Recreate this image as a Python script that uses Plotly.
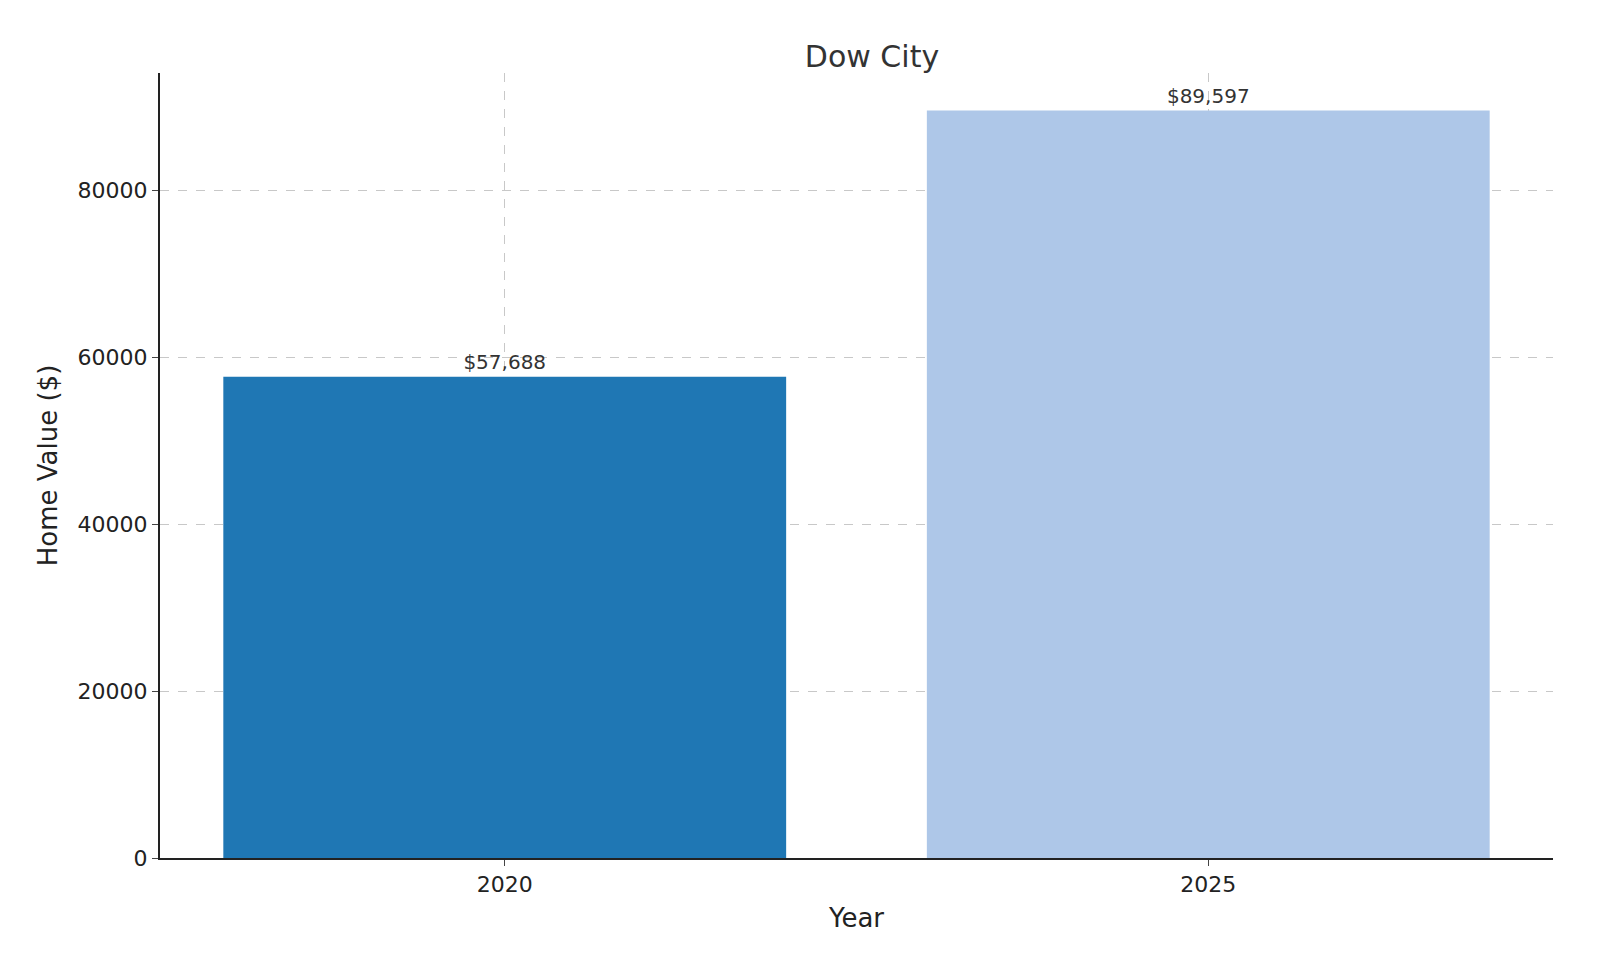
import plotly.graph_objects as go

years = ["2020", "2025"]
values = [57688, 89597]
colors = ["#1f77b4", "#aec7e8"]
labels = ["$57,688", "$89,597"]

fig = go.Figure(go.Bar(
    x=[0, 1], y=values, width=0.8, marker_color=colors, marker_line_width=0,
    text=labels, textposition="outside", cliponaxis=False,
    textfont=dict(size=20, color="#333333"),
))
fig.update_layout(
    width=1600, height=960, plot_bgcolor="white", paper_bgcolor="white",
    font=dict(family="DejaVu Sans", size=22, color="#222222"),
    title=dict(text="Dow City", x=0.54, xanchor="center", y=0.96, font=dict(size=30, color="#333333")),
    margin=dict(l=152, r=55, t=65, b=110),
    showlegend=False, bargap=0.2,
)
fig.update_xaxes(
    tickvals=[0, 1], ticktext=years, range=[-0.49, 1.49],
    title=dict(text="Year", standoff=12), showline=True, linecolor="#222222", linewidth=2,
    ticks="outside", ticklen=6, showgrid=True, gridcolor="#c8c8c8", griddash="dash",
)
fig.update_yaxes(
    range=[0, 94100], tickvals=[0, 20000, 40000, 60000, 80000], tickformat="d",
    title=dict(text="Home Value ($)", standoff=12), showline=True, linecolor="#222222", linewidth=2,
    ticks="outside", ticklen=6, showgrid=True, gridcolor="#c8c8c8", griddash="dash", zeroline=False,
)
fig.write_html("out.html")
